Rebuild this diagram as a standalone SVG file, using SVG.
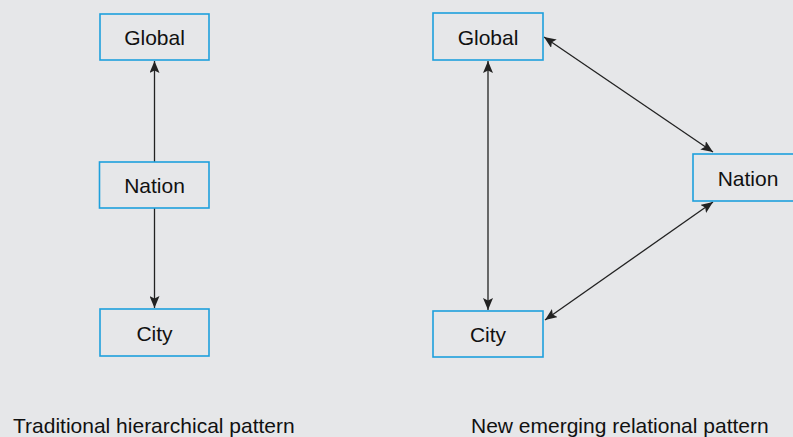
<svg xmlns="http://www.w3.org/2000/svg" width="793" height="437" viewBox="0 0 793 437">
<style>
.box{fill:#e6e7e9;stroke:#1ea0dc;stroke-width:1.6}
.lbl{font-family:"Liberation Sans",Arial,sans-serif;font-size:21px;fill:#111;text-anchor:middle}
.cap{font-family:"Liberation Sans",Arial,sans-serif;font-size:21px;fill:#111}
.con{stroke:#222;stroke-width:1.3;fill:none}
</style>
<defs>
<marker id="ah" viewBox="0 0 12 10" refX="12" refY="5" markerWidth="12" markerHeight="10" markerUnits="userSpaceOnUse" orient="auto-start-reverse">
<path d="M0,0 L12,5 L0,10 L2.5,5 Z" fill="#222"/>
</marker>
</defs>
<rect width="793" height="437" fill="#e6e7e9"/>
<g id="connectors">
<line class="con" x1="154.5" y1="162" x2="154.5" y2="61" marker-end="url(#ah)"/>
<line class="con" x1="154.5" y1="208" x2="154.5" y2="308" marker-end="url(#ah)"/>
<line class="con" x1="488" y1="61" x2="488" y2="310" marker-start="url(#ah)" marker-end="url(#ah)"/>
<line class="con" x1="544" y1="37" x2="713" y2="152" marker-start="url(#ah)" marker-end="url(#ah)"/>
<line class="con" x1="545" y1="320" x2="713" y2="202" marker-start="url(#ah)" marker-end="url(#ah)"/>
</g>
<g id="left-global"><rect class="box" x="100" y="14" width="109" height="46"/><text class="lbl" x="154.5" y="44.5">Global</text></g>
<g id="left-nation"><rect class="box" x="99.5" y="162" width="109.5" height="46"/><text class="lbl" x="154.5" y="192.5">Nation</text></g>
<g id="left-city"><rect class="box" x="100" y="309" width="109" height="47"/><text class="lbl" x="154.5" y="340.5">City</text></g>
<g id="right-global"><rect class="box" x="433" y="13" width="110" height="47"/><text class="lbl" x="488" y="44.5">Global</text></g>
<g id="right-nation"><rect class="box" x="693" y="154" width="112" height="47"/><text class="lbl" x="748" y="185.5">Nation</text></g>
<g id="right-city"><rect class="box" x="433" y="311" width="110" height="46"/><text class="lbl" x="488" y="341.5">City</text></g>
<g id="captions">
<text class="cap" x="13" y="433">Traditional hierarchical pattern</text>
<text class="cap" x="471" y="433">New emerging relational pattern</text>
</g>
</svg>
